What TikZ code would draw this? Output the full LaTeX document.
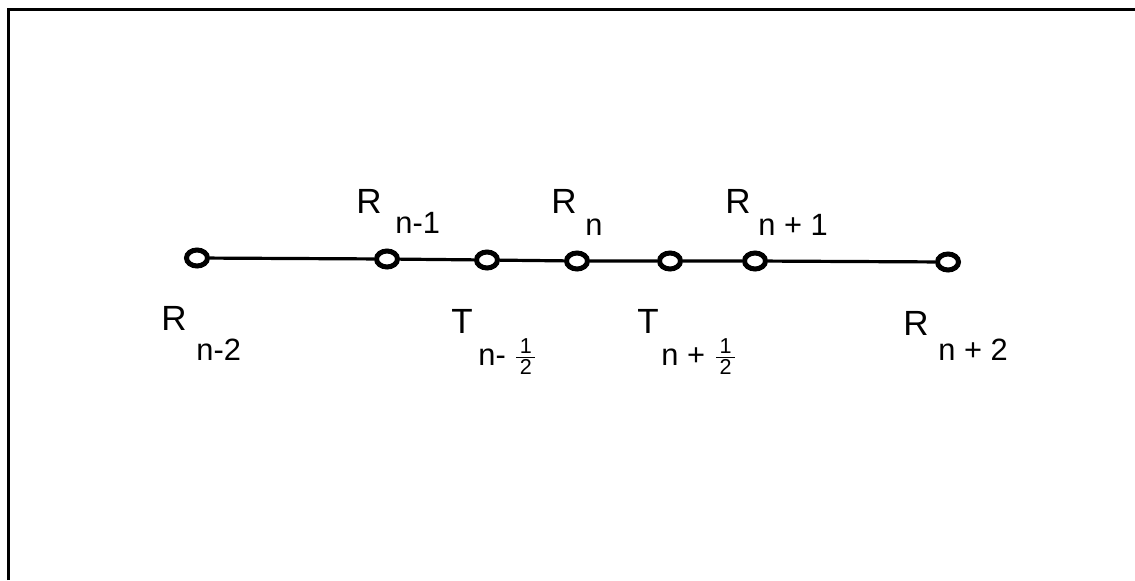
\documentclass[tikz,border=0pt]{standalone}
\usepackage{amsmath}
\usepackage{fontspec}
\setmainfont{Liberation Sans}
\usepackage{tikz}
\usetikzlibrary{shapes.geometric}

\tikzset{
  gridpt/.style={ellipse,draw,line width=2.5pt,fill=white,inner sep=0pt,minimum width=10.5pt,minimum height=8pt},
  sym/.style={inner sep=0pt,anchor=base west,font=\fontsize{17.5}{20}\selectfont},
  idx/.style={inner sep=0pt,anchor=base west,font=\fontsize{15.4}{18}\selectfont},
  wire/.style={line width=1.6pt}
}
\newcommand{\half}{$\frac{\,\text{1}\,}{\,\text{2}\,}$}

\begin{document}
\begin{tikzpicture}[x=0.5pt,y=-0.5pt]
  \useasboundingbox (0,0) rectangle (1135,580);
  % frame (only left and top edges survive)
  \draw[line width=1.5pt] (8,580) -- (8,9) -- (1135,9);
  % grid points
  \foreach \x/\y/\nm in {197/258/p1,387/259/p2,487/260/p3,577/261/p4,670/261/p5,755/261/p6,948/262/p7} {
    \node[gridpt] (\nm) at (\x,\y) {};
  }
  \draw[wire] (p1) -- (p2) -- (p3) -- (p4) -- (p5) -- (p6) -- (p7);
  % labels above
  \node[sym] (rA) at (356,213) {R};
  \node[idx] (iA) at (395,233) {n-1};
  \node[sym] (rB) at (551,213) {R};
  \node[idx] (iB) at (585,235) {n};
  \node[sym] (rC) at (725,213) {R};
  \node[idx] (iC) at (758,235) {n + 1};
  % labels below
  \node[sym] (rD) at (161,330) {R};
  \node[idx] (iD) at (196,360) {n-2};
  \node[sym] (tA) at (451,333) {T};
  \node[idx] (jA) at (478,365) {n-\hspace{4pt}\half};
  \node[sym] (tB) at (637,333) {T};
  \node[idx] (jB) at (661,365) {n + \half};
  \node[sym] (rE) at (903,335) {R};
  \node[idx] (iE) at (938,360) {n + 2};
\end{tikzpicture}
\end{document}
